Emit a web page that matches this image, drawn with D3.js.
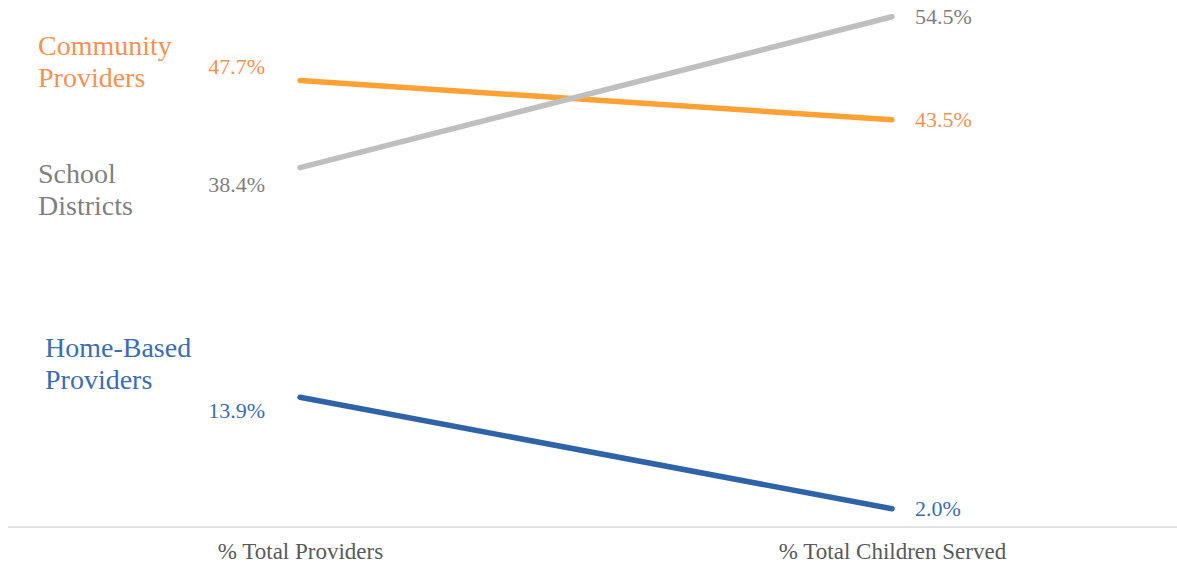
<!DOCTYPE html>
<html>
<head>
<meta charset="utf-8">
<script src="https://cdn.jsdelivr.net/npm/d3@7"></script>
<style>
  body { margin: 0; background: #fff; }
</style>
</head>
<body>
<script>
const columns = ["% Total Providers", "% Total Children Served"];
const seriesNames = ["Community Providers", "School Districts", "Home-Based Providers"];
const seriesLines = [["Community", "Providers"], ["School", "Districts"], ["Home-Based", "Providers"]];
const totalProviders = [47.7, 38.4, 13.9];
const childrenServed = [43.5, 54.5, 2.0];
const lineColors = ["#FFA133", "#BFBFBF", "#2E63A8"];
const textColors = ["#F79152", "#7F7F7F", "#3A6DB3"];

const width = 1177, height = 567;
const serif = "'Liberation Serif', 'Times New Roman', Times, 'DejaVu Serif', serif";

const svg = d3.select("body").append("svg")
    .attr("width", width)
    .attr("height", height)
    .style("font-family", serif);

const x = d3.scalePoint()
    .domain(columns)
    .range([300, 892]);

const y = d3.scaleLinear()
    .domain([0, 56])
    .range([527.5, 2.7]);

// baseline axis
svg.append("g")
    .attr("transform", "translate(0," + 527 + ")")
    .call(d3.axisBottom(x).tickSize(0).tickPadding(16))
    .call(g => g.select(".domain").remove())
    .call(g => g.attr("font-family", null))
    .call(g => g.selectAll("text")
        .style("font-family", serif)
        .attr("font-size", "23px")
        .attr("fill", "#595959"));

svg.append("line")
    .attr("x1", 8).attr("x2", width)
    .attr("y1", 527).attr("y2", 527)
    .attr("stroke", "#D9D9D9")
    .attr("stroke-width", 1.5);

const data = seriesNames.map((name, i) => ({
    name: name,
    lines: seriesLines[i],
    values: [totalProviders[i], childrenServed[i]],
    line: lineColors[i],
    text: textColors[i]
}));

svg.selectAll(".slope")
    .data(data)
    .enter()
    .append("line")
    .attr("class", "slope")
    .attr("x1", x(columns[0]))
    .attr("x2", x(columns[1]))
    .attr("y1", d => y(d.values[0]))
    .attr("y2", d => y(d.values[1]))
    .attr("stroke", d => d.line)
    .attr("stroke-width", 5.5)
    .attr("stroke-linecap", "round");

// value labels
svg.selectAll(".left-val")
    .data(data)
    .enter()
    .append("text")
    .attr("x", 265)
    .attr("y", (d, i) => [74, 192, 418][i])
    .attr("text-anchor", "end")
    .attr("font-size", "22px")
    .attr("fill", d => d.text)
    .text(d => d.values[0].toFixed(1) + "%");

svg.selectAll(".right-val")
    .data(data)
    .enter()
    .append("text")
    .attr("x", 915)
    .attr("y", d => y(d.values[1]) + 7)
    .attr("font-size", "22px")
    .attr("fill", d => d.text)
    .text(d => d.values[1].toFixed(1) + "%");

// series names
const nameX = [38, 38, 45];
const nameY = [55, 183, 357];
data.forEach((d, i) => {
    const t = svg.append("text")
        .attr("x", nameX[i])
        .attr("y", nameY[i])
        .attr("font-size", "28px")
        .attr("fill", d.text);
    d.lines.forEach((ln, j) => {
        t.append("tspan")
            .attr("x", nameX[i])
            .attr("dy", j === 0 ? 0 : 32)
            .text(ln);
    });
});
</script>
</body>
</html>
